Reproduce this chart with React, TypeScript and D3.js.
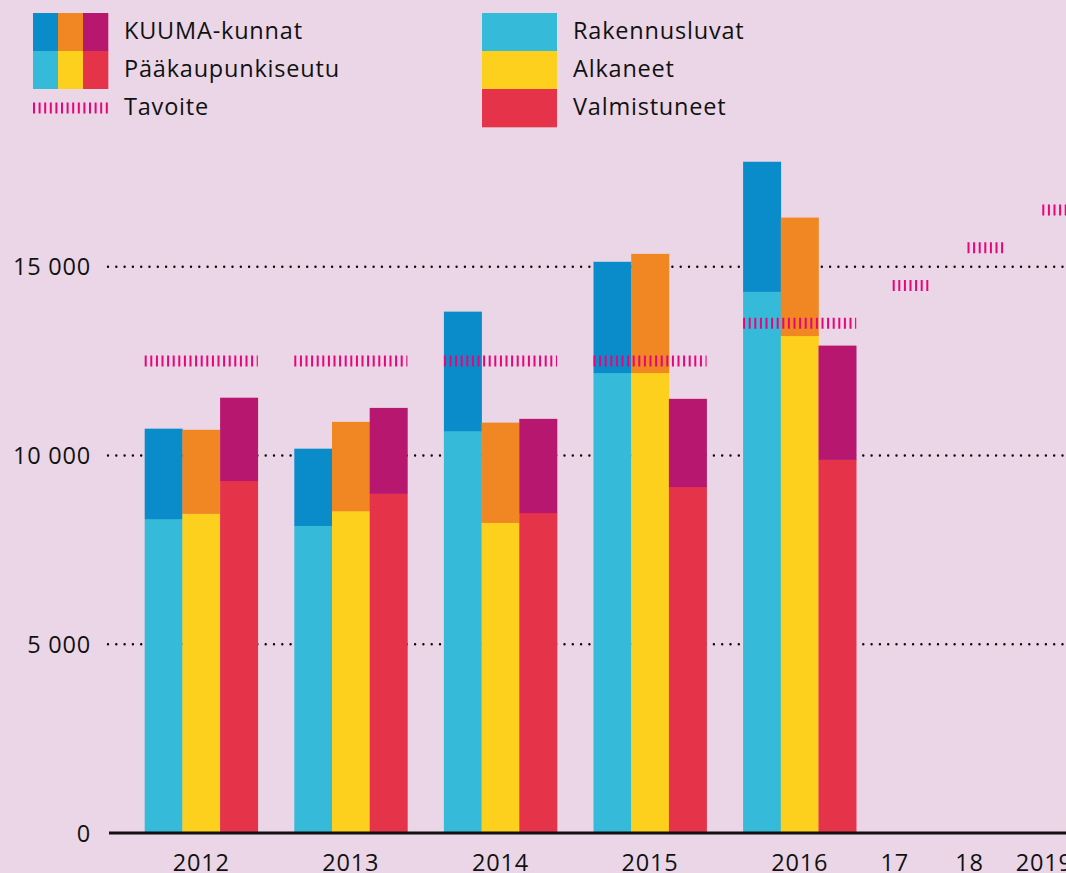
import React from "react";
import * as d3 from "d3";

const years = ["2012", "2013", "2014", "2015", "2016"];
const pksRak = [8320, 8140, 10650, 12190, 14340];
const kuumaRak = [2390, 2040, 3160, 2940, 3440];
const pksAlk = [8460, 8530, 8220, 12190, 13170];
const kuumaAlk = [2220, 2360, 2650, 3150, 3130];
const pksValm = [9330, 8990, 8480, 9170, 9890];
const kuumaValm = [2200, 2270, 2490, 2330, 3020];

const targetYears = ["2012", "2013", "2014", "2015", "2016", "17", "18", "2019"];
const targetValues = [12500, 12500, 12500, 12500, 13500, 14500, 15500, 16500];
const targetSlots = [0, 2, 4, 6, 8, 10, 11, 12];

const yTicks = [0, 5000, 10000, 15000];
const tickLabels = ["0", "5 000", "10 000", "15 000"];

const C = {
  bg: "#ead6e6",
  kRak: "#0a8ccb",
  kAlk: "#f08723",
  kValm: "#b7176e",
  pRak: "#35bbd9",
  pAlk: "#fed01e",
  pValm: "#e5344a",
  target: "#e6067a",
  text: "#111",
};

const FONT = "'Open Sans', Lato, sans-serif";
const FW = 500;

export default function App() {
  const W = 1066, H = 873;
  const y = d3.scaleLinear().domain([0, 15000]).range([833, 266.7]);
  const slot = d3.scaleLinear().domain([0, 12]).range([144.7, 1042.3]);
  const barW = 37.7;

  const series = [
    { pks: pksRak, kuuma: kuumaRak, cp: C.pRak, ck: C.kRak },
    { pks: pksAlk, kuuma: kuumaAlk, cp: C.pAlk, ck: C.kAlk },
    { pks: pksValm, kuuma: kuumaValm, cp: C.pValm, ck: C.kValm },
  ];

  const bars: any[] = [];
  years.forEach((yr, i) => {
    const gx = slot(targetSlots[i]);
    series.forEach((s, j) => {
      const x = gx + j * barW;
      const p = s.pks[i];
      const t = p + s.kuuma[i];
      bars.push(
        <rect key={`p${i}${j}`} x={x} y={y(p)} width={barW + 0.3} height={y(0) - y(p)} fill={s.cp} />,
        <rect key={`k${i}${j}`} x={x} y={y(t)} width={barW + 0.3} height={y(p) - y(t) + 0.3} fill={s.ck} />
      );
    });
  });

  const targets = targetYears.map((yr, i) => {
    const x0 = slot(targetSlots[i]);
    const w = i < 5 ? barW * 3 : i < 7 ? barW + 1 : 40;
    const yy = y(targetValues[i]);
    return (
      <line key={`t${i}`} x1={x0} x2={x0 + w} y1={yy} y2={yy} stroke={C.target}
        strokeWidth={11} strokeDasharray="2 3.6" />
    );
  });

  const txt = { fontSize: 23.5, letterSpacing: 0.8, fill: C.text, fontFamily: FONT, fontWeight: FW } as any;

  const xLabels = targetYears.map((yr, i) => {
    const x0 = slot(targetSlots[i]);
    const cx = i < 5 ? x0 + barW * 1.5 : x0 + 2;
    return (
      <text key={`xl${i}`} x={cx} y={871} textAnchor="middle" {...txt}>
        {yr}
      </text>
    );
  });

  const grid = yTicks.filter((v) => v > 0).map((v) => (
    <line key={`g${v}`} x1={108} x2={W} y1={y(v)} y2={y(v)} stroke="#000" strokeWidth={2.4}
      strokeLinecap="round" strokeDasharray="0 8.3" />
  ));

  const yLabels = yTicks.map((v, i) => (
    <text key={`yl${v}`} x={91} y={y(v) + 8.5} textAnchor="end" {...txt}>
      {tickLabels[i]}
    </text>
  ));

  const sq = 25;
  const legLeft = (
    <g>
      {[C.kRak, C.kAlk, C.kValm].map((c, i) => (
        <rect key={`lk${i}`} x={33 + i * sq} y={13} width={sq + 0.3} height={38.3} fill={c} />
      ))}
      {[C.pRak, C.pAlk, C.pValm].map((c, i) => (
        <rect key={`lp${i}`} x={33 + i * sq} y={51} width={sq + 0.3} height={38} fill={c} />
      ))}
      <line x1={33} x2={109} y1={108} y2={108} stroke={C.target} strokeWidth={11} strokeDasharray="2 3.6" />
      <text x={124} y={39} {...txt}>KUUMA-kunnat</text>
      <text x={124} y={77} {...txt}>Pääkaupunkiseutu</text>
      <text x={124} y={115} {...txt}>Tavoite</text>
    </g>
  );
  const legRight = (
    <g>
      {[C.pRak, C.pAlk, C.pValm].map((c, i) => (
        <rect key={`lr${i}`} x={482} y={13 + i * 38} width={75} height={38.3} fill={c} />
      ))}
      <text x={573} y={39} {...txt}>Rakennusluvat</text>
      <text x={573} y={77} {...txt}>Alkaneet</text>
      <text x={573} y={115} {...txt}>Valmistuneet</text>
    </g>
  );

  return (
    <svg width={W} height={H} style={{ position: "absolute", left: 0, top: 0, display: "block" }}>
      <rect x={0} y={0} width={W} height={H} fill={C.bg} />
      {grid}
      {bars}
      {targets}
      <line x1={109} x2={W} y1={833} y2={833} stroke="#111" strokeWidth={3} />
      {yLabels}
      {xLabels}
      {legLeft}
      {legRight}
    </svg>
  );
}
